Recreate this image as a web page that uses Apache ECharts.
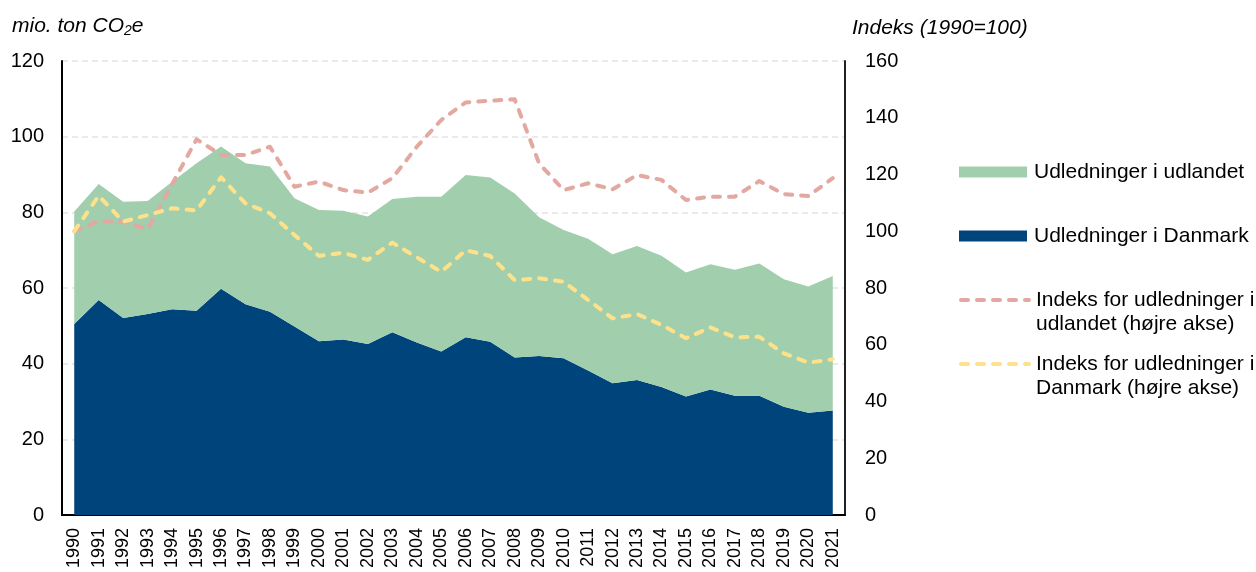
<!DOCTYPE html>
<html><head><meta charset="utf-8">
<script src="https://cdn.jsdelivr.net/npm/echarts@6/dist/echarts.min.js"></script>
<style>html,body{margin:0;padding:0;background:#fff}#c{width:1256px;height:572px}</style>
</head><body><div id="c"></div>
<script>
const years = ['1990','1991','1992','1993','1994','1995','1996','1997','1998','1999','2000','2001','2002','2003','2004','2005','2006','2007','2008','2009','2010','2011','2012','2013','2014','2015','2016','2017','2018','2019','2020','2021'];
const danmark = [50.5,56.8,52.1,53.1,54.4,54.0,59.8,55.7,53.7,49.8,45.9,46.4,45.2,48.3,45.6,43.2,47.0,45.8,41.6,42.0,41.4,38.2,34.8,35.7,33.8,31.3,33.2,31.5,31.5,28.6,27.0,27.6];
const udlandet = [29.7,30.7,30.7,29.9,33.7,39.0,37.6,37.3,38.4,33.9,34.7,34.0,33.7,35.2,38.5,40.9,42.9,43.4,43.4,36.7,33.9,34.8,34.1,35.4,34.7,32.8,33.1,33.3,35.0,33.7,33.4,35.6];
const indeksUdland = [100,103.6,103.4,100.7,116.6,132.4,126.9,126.9,129.8,115.7,117.5,114.5,113.6,118.7,129.8,139.2,145.4,146.0,146.5,123.9,114.5,116.9,114.8,119.8,118.1,111.0,112.2,112.2,117.7,113.1,112.4,118.7];
const indeksDK = [100,112.5,103.4,105.7,108.1,107.3,119.0,109.8,106.3,98.7,91.3,92.4,89.9,96.0,90.8,85.7,93.3,91.3,82.8,83.4,82.2,75.8,69.3,70.8,67.0,62.3,66.1,62.6,62.8,57.0,53.7,54.9];
const leftTicks = {min:0,max:120,interval:20};
const rightTicks = {min:0,max:160,interval:20};

const F = '"Liberation Sans", Arial, sans-serif';
const names = ['Udledninger i udlandet','Udledninger i Danmark','Indeks for udledninger i udlandet (højre akse)','Indeks for udledninger i Danmark (højre akse)'];
const green = '#a1cead', blue = '#00447c', pink = '#e3a8a0', yellow = '#fde28b';

function lg(name, top, icon, h, fmt){
  return {data:[{name:name, icon:icon}], left:959, top:top, orient:'vertical', itemWidth:68, itemHeight:h,
    padding:0, selectedMode:false,
    formatter: fmt || '{name}',
    lineStyle:{width:4, type:[7,9], cap:'round'},
    textStyle:{fontFamily:F, fontSize:21, color:'#000', lineHeight:24, padding:[0,0,0,2]}};
}

const chart = echarts.init(document.getElementById('c'), null, {renderer:'canvas'});
chart.setOption({
  animation:false,
  grid:{left:62, right:411, top:61, bottom:57, containLabel:false},
  legend:[
    lg(names[0], 160, 'rect', 11),
    lg(names[1], 224, 'rect', 11),
    lg(names[2], 264, null, 4, '\nIndeks for udledninger i\nudlandet (højre akse)'),
    lg(names[3], 328, null, 4, '\nIndeks for udledninger i\nDanmark (højre akse)')
  ],
  graphic:[
    {type:'text', left:12, top:16, style:{text:'{a|mio. ton CO}{s|2}{a|e}', rich:{
      a:{fontFamily:F, fontSize:21, fontStyle:'italic', fill:'#000'},
      s:{fontFamily:F, fontSize:14, fontStyle:'italic', fill:'#000', padding:[10,0,0,0]}}}},
    {type:'text', left:852, top:18, style:{text:'Indeks (1990=100)', fontFamily:F, fontSize:21, fontStyle:'italic', fill:'#000'}}
  ],
  xAxis:{type:'category', data:years, boundaryGap:true,
    axisLine:{lineStyle:{color:'#000', width:2}}, axisTick:{show:false},
    axisLabel:{rotate:90, fontFamily:F, fontSize:18, color:'#000', margin:13, interval:0}},
  yAxis:[
    {type:'value', min:leftTicks.min, max:leftTicks.max, interval:leftTicks.interval,
      axisLine:{show:true, lineStyle:{color:'#000', width:2}}, axisTick:{show:false},
      axisLabel:{fontFamily:F, fontSize:20, color:'#000', margin:18},
      splitLine:{show:true, lineStyle:{color:'#e4e4e4', width:1.5, type:[6,4]}}},
    {type:'value', min:rightTicks.min, max:rightTicks.max, interval:rightTicks.interval, position:'right',
      axisLine:{show:true, lineStyle:{color:'#222', width:2}}, axisTick:{show:false},
      axisLabel:{fontFamily:F, fontSize:20, color:'#000', margin:20},
      splitLine:{show:false}}
  ],
  series:[
    {name:names[1], type:'line', stack:'s', data:danmark, symbol:'none', yAxisIndex:0,
      lineStyle:{width:0, color:blue}, itemStyle:{color:blue}, areaStyle:{color:blue, opacity:1}, z:1},
    {name:names[0], type:'line', stack:'s', data:udlandet, symbol:'none', yAxisIndex:0,
      lineStyle:{width:0, color:green}, itemStyle:{color:green}, areaStyle:{color:green, opacity:1}, z:1},
    {name:names[2], type:'line', data:indeksUdland, symbol:'none', yAxisIndex:1,
      itemStyle:{color:pink}, lineStyle:{color:pink, width:4, type:[7,9], cap:'round', join:'round'}, z:3},
    {name:names[3], type:'line', data:indeksDK, symbol:'none', yAxisIndex:1,
      itemStyle:{color:yellow}, lineStyle:{color:yellow, width:4, type:[7,9], cap:'round', join:'round'}, z:3}
  ]
});
</script></body></html>
